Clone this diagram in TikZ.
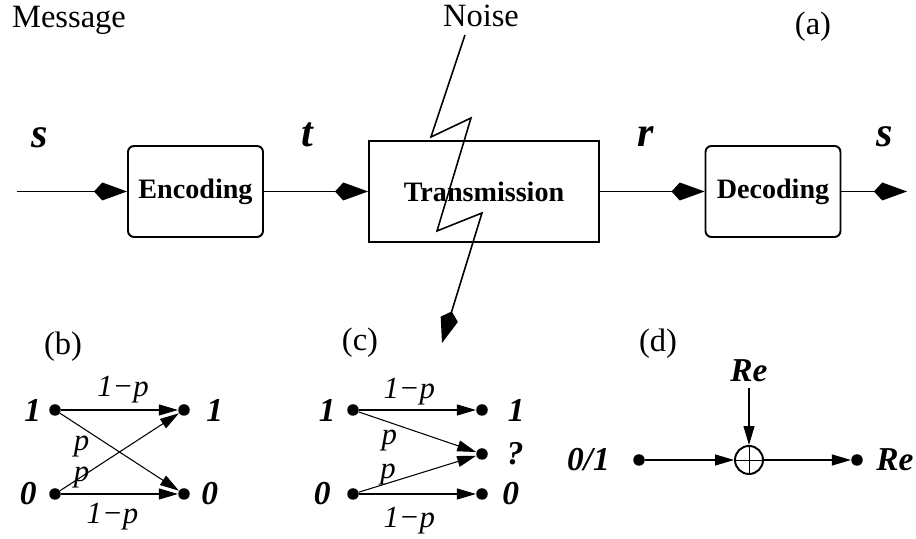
\documentclass[tikz,border=0pt]{standalone}
\usepackage{fontspec}
\setmainfont{Liberation Serif}
\usetikzlibrary{arrows.meta,positioning}

\begin{document}
\begin{tikzpicture}[
    block/.style={draw, line width=1.1pt, rounded corners=0.12cm, minimum width=2.7cm, minimum height=1.82cm, font=\fontsize{16}{19}\selectfont\bfseries},
    channel/.style={draw, line width=1.1pt, minimum width=4.6cm, minimum height=2.02cm, font=\fontsize{16}{19}\selectfont\bfseries},
    signal/.style={font=\fontsize{24}{28}\selectfont\bfseries\itshape},
    caption/.style={font=\fontsize{18.5}{22}\selectfont},
    bit/.style={font=\fontsize{19}{22}\selectfont\bfseries\itshape},
    prob/.style={font=\fontsize{17.5}{21}\selectfont\itshape, inner sep=0pt},
    dot/.style={circle, fill, inner sep=0pt, minimum size=0.23cm},
    flow/.style={line width=1.1pt, -{Kite[length=0.66cm, width=0.36cm]}},
    trans/.style={line width=0.6pt, -{Triangle[length=0.38cm, width=0.22cm]}}
]
    \useasboundingbox (0,0) rectangle (18.32,10.78);

    % Headers
    \node[caption, anchor=base] (msg) at (1.38,10.22) {Message};
    \node[caption, anchor=base] (noise) at (9.62,10.24) {Noise};
    \node[caption, anchor=base] (pa) at (16.26,10.08) {(a)};

    % Main chain
    \coordinate (in) at (0.34,6.95);
    \node[block] (enc) at (3.91,6.95) {Encoding};
    \node[channel] (trans) at (9.68,6.95) {Transmission};
    \node[block] (dec) at (15.46,6.95) {Decoding};
    \coordinate (out) at (18.14,6.95);

    \draw[flow] (in) -- (enc);
    \draw[flow] (enc) -- (trans);
    \draw[flow] (trans) -- (dec);
    \draw[flow] (dec) -- (out);

    % -- signal names
    \node[signal] (s1) at (0.8,8.02) {s};
    \node[signal] (t) at (6.14,8.08) {t};
    \node[signal] (r) at (12.92,8.04) {r};
    \node[signal] (s2) at (17.7,8.04) {s};

    % Noise bolt
    \coordinate (n0) at (9.3,10.08);
    \coordinate (n1) at (8.62,8.04);
    \coordinate (n2) at (9.42,8.42);
    \coordinate (n3) at (8.74,6.16);
    \coordinate (n4) at (9.64,6.52);
    \coordinate (n5) at (8.84,3.92);
    \draw[flow, line width=0.9pt, line join=miter] (n0) -- (n1) -- (n2) -- (n3) -- (n4) -- (n5);

    % (b) binary symmetric channel
    \node[caption] (pb) at (1.26,3.84) {(b)};
    \node[dot, label={[bit, label distance=0.03cm]left:1}] (b1) at (1.1,2.58) {};
    \node[dot, label={[bit, label distance=0.2cm]right:1}] (b1o) at (3.68,2.58) {};
    \node[dot, label={[bit, label distance=0.12cm]left:0}] (b0) at (1.1,0.9) {};
    \node[dot, label={[bit, label distance=0.1cm]right:0}] (b0o) at (3.68,0.9) {};
    \draw[trans] (b1) -- node[prob, pos=0.18, yshift=-0.39cm] {p} (b0o);
    \draw[trans] (b0) -- node[prob, pos=0.18, yshift=-0.01cm] {p} (b1o);
    \draw[trans] (b1) -- node[prob, pos=0.53, yshift=0.4cm] {1−p} (b1o);
    \draw[trans] (b0) -- node[prob, pos=0.44, yshift=-0.46cm] {1−p} (b0o);

    % (c) erasure channel
    \node[caption] (pc) at (7.2,3.92) {(c)};
    \node[dot, label={[bit, label distance=0.1cm]left:1}] (c1) at (7.06,2.58) {};
    \node[dot, label={[bit, label distance=0.27cm]right:1}] (c1o) at (9.64,2.58) {};
    \node[dot, label={[bit, label distance=0.25cm]right:?}] (cq) at (9.64,1.7) {};
    \node[dot, label={[bit, label distance=0.2cm]left:0}] (c0) at (7.06,0.9) {};
    \node[dot, label={[bit, label distance=0.16cm]right:0}] (c0o) at (9.64,0.9) {};
    \draw[trans] (c1) -- node[prob, pos=0.43, yshift=0.36cm] {1−p} (c1o);
    \draw[trans] (c1) -- node[prob, pos=0.26, yshift=-0.37cm] {p} (cq);
    \draw[trans] (c0) -- node[prob, pos=0.25, yshift=0.18cm] {p} (cq);
    \draw[trans] (c0) -- node[prob, pos=0.43, yshift=-0.54cm] {1−p} (c0o);

    % (d) additive noise
    \node[caption] (pd) at (13.16,3.9) {(d)};
    \node[dot, label={[bit, label distance=0.34cm]left:0/1}] (d0) at (12.78,1.58) {};
    \node[circle, draw, line width=1.1pt, minimum size=0.56cm, inner sep=0pt] (sum) at (14.98,1.58) {};
    \draw[line width=0.5pt] (sum.north) -- (sum.south) (sum.west) -- (sum.east);
    \node[dot, label={[bit, label distance=0.14cm]right:Re}] (d1) at (17.14,1.58) {};
    \node[bit] (re) at (14.98,3.36) {Re};
    \draw[trans] (re) -- (sum);
    \draw[trans] (d0) -- (sum);
    \draw[trans] (sum) -- (d1);
\end{tikzpicture}
\end{document}
